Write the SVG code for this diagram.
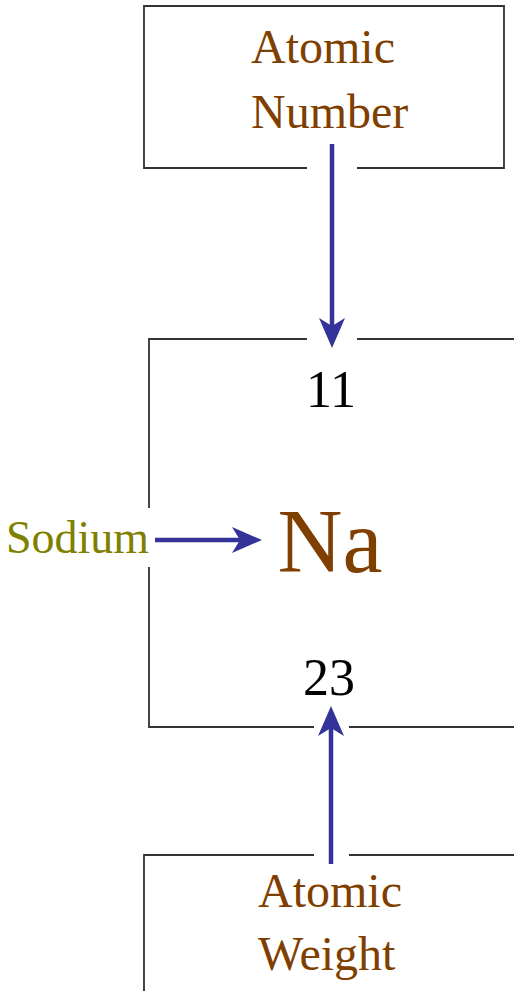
<svg xmlns="http://www.w3.org/2000/svg" width="514" height="991" viewBox="0 0 514 991">
<style>
.box{fill:none;stroke:#333333;stroke-width:1.8}
.t{font-family:"Liberation Serif","Times New Roman",serif}
.brown{fill:#7F3F00}
.num{fill:#000;font-size:52px;text-anchor:middle}
.conn{stroke:#333399;stroke-width:4.5;fill:none}
</style>
<defs>
<marker id="ah" markerUnits="userSpaceOnUse" markerWidth="30" markerHeight="26" viewBox="0 0 30 26" refX="10" refY="13" orient="auto">
<path d="M0,0 L30,13 L0,26 L8,13 Z" fill="#333399"/>
</marker>
</defs>
<g id="atomic-number">
<path class="box" d="M307,168 H144 V6 H504 V168 H357"/>
<text class="t brown" font-size="48" x="251" y="63">Atomic</text>
<text class="t brown" font-size="48" x="251" y="128">Number</text>
</g>
<g id="element">
<path class="box" d="M307,339 H149 V508 M149,567 V727 H314 M349,727 H514 M357,339 H514"/>
<text class="t num" x="331" y="407">11</text>
<text class="t brown" font-size="90" x="330" y="572" text-anchor="middle">Na</text>
<text class="t num" x="329" y="695">23</text>
</g>
<g id="sodium">
<text class="t" font-size="46" fill="#808000" x="6" y="553">Sodium</text>
</g>
<g id="atomic-weight">
<path class="box" d="M314,855 H144 V991 M349,855 H514"/>
<text class="t brown" font-size="48" x="258" y="907">Atomic</text>
<text class="t brown" font-size="48" x="258" y="970">Weight</text>
</g>
<g id="connectors">
<line class="conn" x1="332" y1="144" x2="332" y2="328" marker-end="url(#ah)"/>
<line class="conn" x1="155" y1="540" x2="242" y2="540" marker-end="url(#ah)"/>
<line class="conn" x1="331" y1="864" x2="331" y2="726" marker-end="url(#ah)"/>
</g>
</svg>
